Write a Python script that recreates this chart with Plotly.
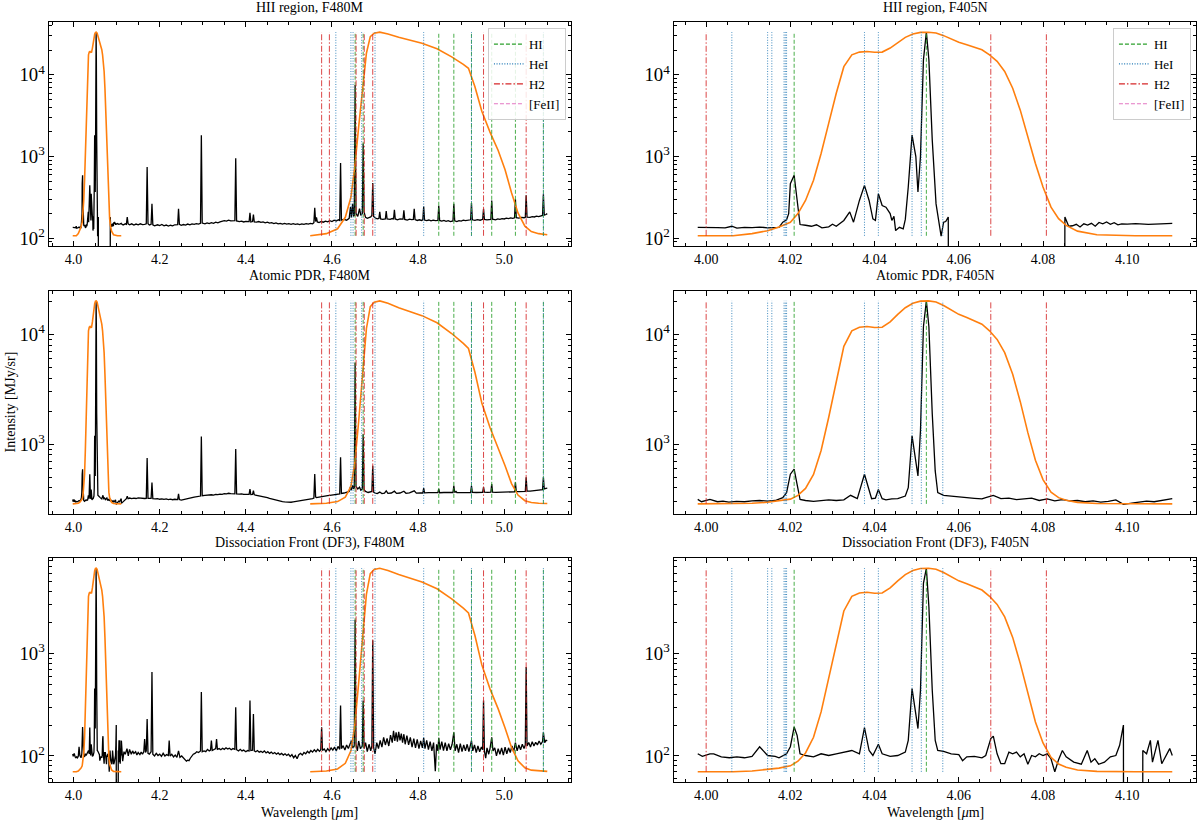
import math
import plotly.graph_objects as go
from plotly.subplots import make_subplots

# ---------------- data ----------------
regions = ['HII region', 'Atomic PDR', 'Dissociation Front (DF3)']
region_peak = [33400, 20200, 6800]
region_floor = [107, 285, 70]

# filter throughput curves (fraction of peak)
f405n_wave = [3.9980, 4.0064, 4.0109, 4.0146, 4.0173, 4.0200, 4.0218, 4.0236, 4.0255, 4.0273,
              4.0291, 4.0309, 4.0327, 4.0346, 4.0364, 4.0382, 4.0400, 4.0418, 4.0437, 4.0455,
              4.0473, 4.0491, 4.0509, 4.0528, 4.0546, 4.0564, 4.0582, 4.0600, 4.0619, 4.0637,
              4.0655, 4.0673, 4.0691, 4.0709, 4.0728, 4.0746, 4.0764, 4.0782, 4.0800, 4.0819,
              4.0837, 4.0855, 4.0882, 4.0928, 4.1019, 4.1107]
f405n_trans = [0.0, 0.0, 0.0002, 0.0005, 0.0009, 0.0015, 0.0028, 0.0055, 0.0122, 0.0296,
               0.0734, 0.176, 0.376, 0.527, 0.569, 0.578, 0.566, 0.569, 0.638, 0.750,
               0.864, 0.949, 0.994, 1.0, 0.976, 0.907, 0.822, 0.750, 0.702, 0.656,
               0.608, 0.527, 0.437, 0.328, 0.203, 0.108, 0.0495, 0.0215, 0.0095, 0.004,
               0.002, 0.0011, 0.00045, 0.0001, 0.0, 0.0]

f480m_wave = [4.5495, 4.587, 4.613, 4.631, 4.644, 4.653, 4.662, 4.671, 4.680, 4.689,
              4.698, 4.711, 4.730, 4.755, 4.780, 4.809, 4.844, 4.878, 4.905, 4.917,
              4.932, 4.948, 4.967, 4.986, 5.002, 5.017, 5.032, 5.048, 5.063, 5.080, 5.100]
f480m_trans = [0.0, 0.0002, 0.0007, 0.0022, 0.0063, 0.0192, 0.0663, 0.2124, 0.551, 0.883,
               0.970, 1.0, 0.949, 0.865, 0.799, 0.730, 0.626, 0.497, 0.401, 0.359,
               0.2124, 0.1046, 0.0567, 0.0324, 0.0175, 0.0076, 0.0029, 0.0010, 0.0004, 0.0002, 0.0001]

# spectra around F405N (3.998-4.111 um), (wavelength, intensity); 0.01 = non-positive pixel
hii_nb = [(3.998, 136), (4.0009, 137), (4.0027, 135), (4.0045, 134), (4.0061, 140), (4.0073, 133),
          (4.0091, 136), (4.0109, 135), (4.0127, 137), (4.0146, 134), (4.0164, 137), (4.0173, 136),
          (4.0182, 157), (4.0191, 168), (4.0196, 200), (4.0200, 466), (4.0209, 590), (4.0216, 290),
          (4.0223, 147), (4.0236, 144), (4.0250, 140), (4.0262, 146), (4.0275, 134), (4.0291, 138),
          (4.0300, 148), (4.0309, 140), (4.0318, 152), (4.0327, 165), (4.0341, 210), (4.0350, 157),
          (4.0364, 290), (4.0376, 444), (4.0387, 290), (4.0396, 173), (4.0402, 165), (4.0409, 350),
          (4.0418, 251), (4.0427, 240), (4.0437, 200), (4.0441, 165), (4.0446, 185), (4.0450, 124),
          (4.0459, 136), (4.0468, 130), (4.0473, 170), (4.0480, 424), (4.0489, 1830), (4.0498, 1000),
          (4.0503, 368), (4.0509, 1000), (4.0516, 15300), (4.0523, 33400), (4.0529, 15300),
          (4.0537, 1590), (4.0546, 263), (4.0558, 106), (4.0564, 157), (4.0569, 160), (4.0575, 182),
          (4.0577, 0.01), (4.0850, 0.01), (4.0852, 182), (4.0861, 140), (4.0870, 142), (4.0879, 148),
          (4.0888, 137), (4.0897, 150), (4.0906, 145), (4.0915, 152), (4.0924, 140), (4.0933, 156),
          (4.0942, 150), (4.0951, 158), (4.0960, 148), (4.0969, 155), (4.0978, 146), (4.0987, 150),
          (4.1000, 149), (4.1020, 151), (4.1050, 148), (4.1080, 150), (4.1107, 152)]

pdr_nb = [(3.998, 313), (3.9989, 298), (4.0009, 313), (4.0027, 298), (4.0040, 302), (4.0054, 296),
          (4.0072, 300), (4.0091, 298), (4.0109, 303), (4.0127, 306), (4.0146, 302), (4.0164, 306),
          (4.0182, 325), (4.0191, 361), (4.0200, 531), (4.0209, 590), (4.0216, 430), (4.0223, 313),
          (4.0236, 306), (4.0255, 301), (4.0273, 305), (4.0291, 310), (4.0309, 306), (4.0327, 310),
          (4.0343, 341), (4.0359, 318), (4.0376, 531), (4.0387, 373), (4.0393, 318), (4.0402, 322),
          (4.0409, 386), (4.0418, 318), (4.0427, 310), (4.0441, 316), (4.0455, 318), (4.0473, 336),
          (4.0480, 400), (4.0489, 1190), (4.0496, 755), (4.0503, 513), (4.0509, 1325),
          (4.0516, 11750), (4.0523, 20200), (4.0529, 11750), (4.0537, 1885), (4.0544, 569),
          (4.0550, 361), (4.0564, 341), (4.0582, 336), (4.0600, 333), (4.0619, 325), (4.0637, 320),
          (4.0655, 316), (4.0664, 325), (4.0682, 341), (4.0700, 318), (4.0719, 322), (4.0737, 312),
          (4.0755, 318), (4.0773, 322), (4.0791, 306), (4.0810, 316), (4.0828, 304), (4.0846, 312),
          (4.0864, 303), (4.0882, 306), (4.0900, 298), (4.0919, 304), (4.0937, 296), (4.0955, 300),
          (4.0973, 310), (4.0991, 282), (4.1019, 293), (4.1046, 302), (4.1064, 298), (4.1082, 305),
          (4.1107, 318)]

df3_nb = [(3.998, 105), (3.9991, 99), (4.0009, 105), (4.0018, 105), (4.0036, 98), (4.0055, 96),
          (4.0073, 98), (4.0091, 96), (4.0109, 99), (4.0127, 123), (4.0146, 101), (4.0164, 99),
          (4.0173, 96), (4.0191, 105), (4.0200, 123), (4.0209, 192), (4.0216, 159), (4.0223, 105),
          (4.0236, 101), (4.0255, 98), (4.0273, 105), (4.0291, 101), (4.0309, 105), (4.0327, 109),
          (4.0346, 113), (4.0364, 105), (4.0376, 189), (4.0387, 113), (4.0396, 101), (4.0409, 130),
          (4.0418, 105), (4.0437, 99), (4.0455, 101), (4.0473, 109), (4.0480, 142), (4.0489, 455),
          (4.0496, 301), (4.0503, 185), (4.0509, 438), (4.0516, 4830), (4.0523, 6800),
          (4.0529, 2860), (4.0537, 438), (4.0544, 142), (4.0550, 113), (4.0564, 111), (4.0582, 105),
          (4.0600, 103), (4.0609, 90), (4.0619, 98), (4.0637, 99), (4.0655, 96), (4.0664, 101),
          (4.0676, 148), (4.0682, 156), (4.0691, 105), (4.0700, 84), (4.0709, 84), (4.0719, 109),
          (4.0728, 105), (4.0737, 109), (4.0746, 98), (4.0755, 105), (4.0764, 83), (4.0773, 101),
          (4.0782, 98), (4.0791, 105), (4.0800, 101), (4.0810, 105), (4.0819, 94), (4.0828, 70),
          (4.0837, 92), (4.0846, 113), (4.0855, 98), (4.0873, 87), (4.0891, 83), (4.0905, 113),
          (4.0914, 87), (4.0923, 94), (4.0932, 83), (4.0946, 87), (4.0960, 98), (4.0973, 101),
          (4.0982, 127), (4.0991, 200), (4.0992, 0.01), (4.1036, 0.01), (4.1037, 113),
          (4.1046, 105), (4.1055, 142), (4.1060, 87), (4.1069, 123), (4.1073, 142), (4.1082, 84),
          (4.1091, 99), (4.1101, 118), (4.1107, 101)]

# spectra between the two filters and across F480M (4.111-5.100 um)
hii_mb = [(4.111, 150), (4.115, 145), (4.120, 150), (4.1226, 148), (4.1246, 181), (4.1266, 150),
          (4.130, 146), (4.135, 150), (4.140, 145), (4.145, 149), (4.150, 146), (4.155, 150),
          (4.160, 147), (4.165, 148), (4.1688, 150), (4.1708, 747), (4.1728, 150), (4.176, 145),
          (4.1800, 148), (4.1820, 264), (4.1840, 146), (4.188, 142), (4.195, 146), (4.200, 143),
          (4.205, 147), (4.210, 142), (4.215, 145), (4.220, 141), (4.225, 144), (4.230, 142),
          (4.235, 146), (4.2417, 147), (4.2437, 229), (4.2457, 148), (4.250, 144), (4.255, 147),
          (4.260, 145), (4.265, 149), (4.270, 146), (4.275, 150), (4.280, 148), (4.285, 151),
          (4.290, 149), (4.2947, 152), (4.2967, 1830), (4.2987, 153), (4.305, 150), (4.310, 154),
          (4.315, 151), (4.320, 155), (4.325, 152), (4.330, 157), (4.335, 154), (4.340, 158),
          (4.345, 160), (4.350, 164), (4.355, 162), (4.360, 166), (4.365, 163), (4.370, 165),
          (4.3745, 164), (4.3765, 950), (4.3785, 163), (4.385, 160), (4.390, 162), (4.395, 158),
          (4.400, 161), (4.4076, 160), (4.4096, 205), (4.4116, 158), (4.4156, 160), (4.4176, 195),
          (4.4196, 158), (4.425, 157), (4.430, 160), (4.435, 156), (4.440, 158), (4.445, 154),
          (4.450, 157), (4.455, 153), (4.460, 155), (4.465, 151), (4.470, 154), (4.475, 150),
          (4.480, 152), (4.485, 149), (4.490, 152), (4.495, 149), (4.500, 151), (4.505, 148),
          (4.510, 151), (4.515, 148), (4.520, 150), (4.525, 147), (4.530, 150), (4.535, 148),
          (4.540, 151), (4.545, 149), (4.550, 152), (4.555, 150), (4.558, 155), (4.560, 236),
          (4.562, 160), (4.564, 180), (4.566, 158), (4.570, 155), (4.575, 160), (4.580, 157),
          (4.585, 162), (4.590, 159), (4.595, 164), (4.600, 160), (4.605, 166), (4.610, 162),
          (4.615, 168), (4.618, 165), (4.620, 835), (4.622, 166), (4.628, 170), (4.634, 166),
          (4.640, 175), (4.643, 240), (4.645, 180), (4.648, 264), (4.650, 185), (4.6518, 190),
          (4.6538, 7540), (4.6558, 200), (4.660, 185), (4.664, 230), (4.667, 190), (4.6705, 200),
          (4.6725, 1450), (4.6745, 210), (4.678, 180), (4.682, 175), (4.686, 178), (4.690, 182),
          (4.6927, 190), (4.6947, 474), (4.6967, 185), (4.700, 178), (4.705, 173), (4.709, 175),
          (4.711, 210), (4.713, 172), (4.718, 170), (4.722, 174), (4.724, 172), (4.726, 215),
          (4.728, 172), (4.735, 170), (4.740, 174), (4.743, 172), (4.745, 223), (4.747, 172),
          (4.752, 168), (4.758, 172), (4.765, 171), (4.767, 220), (4.769, 170), (4.775, 167),
          (4.780, 171), (4.785, 169), (4.789, 170), (4.791, 229), (4.793, 169), (4.798, 165),
          (4.803, 168), (4.808, 165), (4.811, 168), (4.813, 245), (4.815, 167), (4.820, 164),
          (4.825, 167), (4.830, 163), (4.835, 166), (4.840, 164), (4.846, 165), (4.848, 250),
          (4.850, 165), (4.855, 162), (4.860, 165), (4.865, 161), (4.870, 164), (4.875, 160),
          (4.881, 163), (4.883, 264), (4.885, 163), (4.890, 160), (4.895, 164), (4.900, 162),
          (4.905, 166), (4.910, 164), (4.915, 167), (4.922, 168), (4.924, 270), (4.926, 168),
          (4.932, 165), (4.938, 169), (4.944, 166), (4.950, 170), (4.952, 229), (4.954, 170),
          (4.960, 168), (4.965, 171), (4.969, 170), (4.971, 290), (4.973, 171), (4.980, 168),
          (4.985, 172), (4.990, 170), (4.995, 174), (5.000, 172), (5.005, 176), (5.010, 174),
          (5.015, 177), (5.020, 175), (5.024, 178), (5.026, 300), (5.028, 178), (5.034, 176),
          (5.040, 180), (5.046, 178), (5.049, 180), (5.051, 335), (5.053, 181), (5.060, 180),
          (5.065, 184), (5.070, 182), (5.075, 186), (5.080, 184), (5.085, 188), (5.089, 190),
          (5.091, 344), (5.093, 192), (5.097, 195), (5.100, 200)]

pdr_mb = [(4.111, 288), (4.115, 300), (4.118, 310), (4.1226, 318), (4.1246, 335), (4.1266, 318),
          (4.130, 322), (4.135, 318), (4.140, 322), (4.145, 319), (4.150, 323), (4.155, 320),
          (4.160, 322), (4.165, 319), (4.1688, 320), (4.1708, 747), (4.1728, 320), (4.176, 318),
          (4.1800, 320), (4.1820, 445), (4.1840, 318), (4.190, 316), (4.195, 318), (4.200, 314),
          (4.205, 317), (4.210, 313), (4.215, 316), (4.220, 312), (4.225, 315), (4.230, 311),
          (4.235, 314), (4.2417, 312), (4.2437, 351), (4.2457, 312), (4.250, 309), (4.255, 312),
          (4.260, 314), (4.265, 318), (4.270, 321), (4.275, 325), (4.280, 328), (4.285, 332),
          (4.290, 334), (4.2947, 336), (4.2967, 1170), (4.2987, 338), (4.305, 340), (4.310, 343),
          (4.315, 341), (4.320, 345), (4.325, 343), (4.330, 348), (4.335, 346), (4.340, 350),
          (4.345, 348), (4.350, 353), (4.355, 351), (4.360, 356), (4.365, 353), (4.370, 355),
          (4.3745, 352), (4.3765, 902), (4.3785, 352), (4.385, 350), (4.390, 352), (4.395, 348),
          (4.400, 350), (4.4076, 348), (4.4096, 389), (4.4116, 346), (4.4156, 347), (4.4176, 377),
          (4.4196, 345), (4.425, 342), (4.430, 340), (4.435, 336), (4.440, 333), (4.445, 328),
          (4.450, 325), (4.455, 320), (4.460, 316), (4.465, 311), (4.470, 307), (4.475, 304),
          (4.480, 301), (4.485, 299), (4.490, 297), (4.495, 295), (4.500, 294), (4.505, 295),
          (4.510, 297), (4.515, 299), (4.520, 301), (4.525, 303), (4.530, 306), (4.535, 308),
          (4.540, 311), (4.545, 313), (4.550, 316), (4.555, 318), (4.558, 322), (4.560, 533),
          (4.562, 330), (4.564, 325), (4.570, 328), (4.575, 332), (4.580, 334), (4.585, 337),
          (4.590, 339), (4.595, 341), (4.600, 344), (4.605, 346), (4.610, 349), (4.615, 350),
          (4.618, 352), (4.620, 757), (4.622, 355), (4.628, 358), (4.634, 362), (4.640, 370),
          (4.643, 409), (4.645, 380), (4.648, 420), (4.650, 390), (4.6518, 400), (4.6538, 5520),
          (4.6558, 410), (4.660, 390), (4.664, 405), (4.667, 380), (4.6705, 390), (4.6725, 1230),
          (4.6745, 385), (4.678, 370), (4.684, 362), (4.690, 365), (4.6927, 370), (4.6947, 635),
          (4.6967, 365), (4.700, 358), (4.705, 354), (4.711, 365), (4.716, 354), (4.722, 357),
          (4.726, 375), (4.730, 356), (4.738, 358), (4.745, 372), (4.750, 355), (4.758, 358),
          (4.767, 372), (4.772, 356), (4.780, 359), (4.791, 375), (4.796, 357), (4.805, 359),
          (4.811, 358), (4.813, 397), (4.815, 359), (4.825, 361), (4.835, 359), (4.846, 361),
          (4.848, 390), (4.850, 360), (4.860, 362), (4.870, 360), (4.881, 362), (4.883, 417),
          (4.885, 362), (4.888, 370), (4.890, 362), (4.900, 361), (4.910, 363), (4.922, 362),
          (4.924, 417), (4.926, 363), (4.935, 362), (4.944, 364), (4.950, 363), (4.952, 405),
          (4.954, 364), (4.962, 363), (4.969, 364), (4.971, 433), (4.973, 364), (4.980, 363),
          (4.990, 365), (5.000, 364), (5.010, 366), (5.020, 366), (5.024, 367), (5.026, 449),
          (5.028, 368), (5.035, 368), (5.045, 370), (5.049, 371), (5.051, 498), (5.053, 372),
          (5.060, 373), (5.070, 376), (5.080, 380), (5.089, 385), (5.091, 498), (5.093, 390),
          (5.097, 395), (5.100, 397)]

df3_mb = [(4.111, 141), (4.114, 89), (4.117, 110), (4.120, 104), (4.124, 118), (4.127, 100),
          (4.130, 116), (4.134, 104), (4.137, 112), (4.140, 106), (4.144, 110), (4.147, 102),
          (4.150, 108), (4.154, 103), (4.157, 109), (4.160, 104), (4.163, 110), (4.1650, 146),
          (4.1670, 108), (4.1688, 112), (4.1708, 229), (4.1728, 106), (4.176, 104), (4.1800, 110),
          (4.1820, 660), (4.1840, 104), (4.188, 100), (4.192, 106), (4.196, 101), (4.200, 104),
          (4.204, 99), (4.208, 106), (4.212, 100), (4.216, 103), (4.2200, 101), (4.2220, 141),
          (4.2240, 100), (4.228, 104), (4.232, 98), (4.236, 102), (4.240, 97), (4.2437, 112),
          (4.247, 97), (4.251, 100), (4.255, 95), (4.259, 92), (4.262, 89), (4.265, 91),
          (4.268, 90), (4.271, 95), (4.274, 99), (4.278, 104), (4.282, 106), (4.286, 110),
          (4.290, 108), (4.2947, 112), (4.2967, 420), (4.2987, 110), (4.303, 112), (4.307, 110),
          (4.311, 116), (4.315, 112), (4.3180, 114), (4.3200, 141), (4.3220, 113), (4.326, 116),
          (4.3300, 118), (4.3320, 146), (4.3340, 116), (4.338, 118), (4.342, 115), (4.346, 119),
          (4.350, 116), (4.354, 120), (4.358, 117), (4.362, 119), (4.366, 115), (4.370, 118),
          (4.3745, 116), (4.3765, 298), (4.3785, 115), (4.383, 112), (4.387, 116), (4.391, 112),
          (4.395, 114), (4.400, 110), (4.404, 113), (4.4076, 112), (4.4096, 347), (4.4116, 113),
          (4.4156, 114), (4.4176, 257), (4.4196, 112), (4.423, 110), (4.427, 113), (4.431, 109),
          (4.435, 111), (4.439, 108), (4.443, 112), (4.447, 107), (4.451, 110), (4.455, 106),
          (4.459, 109), (4.463, 105), (4.467, 108), (4.471, 104), (4.475, 107), (4.479, 103),
          (4.483, 106), (4.487, 102), (4.491, 105), (4.495, 101), (4.499, 104), (4.503, 99),
          (4.507, 103), (4.511, 96), (4.515, 101), (4.519, 94), (4.523, 103), (4.527, 106),
          (4.531, 102), (4.535, 108), (4.539, 105), (4.543, 111), (4.547, 107), (4.551, 113),
          (4.555, 109), (4.559, 115), (4.563, 110), (4.567, 116), (4.571, 111), (4.5740, 115),
          (4.5760, 190), (4.5780, 113), (4.582, 117), (4.586, 110), (4.590, 118), (4.594, 112),
          (4.598, 120), (4.602, 114), (4.606, 122), (4.610, 112), (4.614, 124), (4.618, 116),
          (4.620, 310), (4.622, 118), (4.626, 126), (4.630, 114), (4.634, 128), (4.638, 118),
          (4.642, 130), (4.645, 141), (4.648, 120), (4.6518, 125), (4.6538, 2130), (4.6558, 130),
          (4.659, 112), (4.662, 140), (4.666, 118), (4.6705, 125), (4.6725, 347), (4.6745, 118),
          (4.678, 135), (4.682, 110), (4.686, 130), (4.690, 112), (4.6927, 125), (4.6947, 1350),
          (4.6967, 121), (4.700, 105), (4.704, 135), (4.708, 118), (4.712, 142), (4.716, 122),
          (4.720, 152), (4.724, 128), (4.728, 148), (4.732, 125), (4.736, 160), (4.740, 135),
          (4.743, 176), (4.746, 140), (4.749, 170), (4.752, 138), (4.755, 172), (4.758, 142),
          (4.761, 165), (4.764, 135), (4.767, 163), (4.770, 130), (4.774, 158), (4.778, 128),
          (4.782, 152), (4.786, 122), (4.790, 148), (4.794, 120), (4.798, 145), (4.802, 118),
          (4.806, 140), (4.810, 120), (4.813, 150), (4.816, 118), (4.820, 142), (4.824, 115),
          (4.828, 138), (4.832, 112), (4.836, 135), (4.840, 71), (4.843, 130), (4.846, 112),
          (4.848, 150), (4.851, 115), (4.855, 138), (4.859, 113), (4.863, 135), (4.867, 112),
          (4.871, 132), (4.875, 115), (4.879, 130), (4.883, 170), (4.886, 112), (4.890, 130),
          (4.894, 108), (4.898, 132), (4.902, 110), (4.906, 128), (4.910, 112), (4.914, 130),
          (4.918, 110), (4.922, 128), (4.924, 141), (4.927, 112), (4.931, 128), (4.935, 108),
          (4.939, 125), (4.943, 110), (4.947, 122), (4.950, 115), (4.952, 347), (4.954, 112),
          (4.957, 95), (4.960, 120), (4.964, 104), (4.967, 118), (4.971, 152), (4.974, 112),
          (4.978, 120), (4.982, 100), (4.986, 118), (4.990, 104), (4.994, 120), (4.998, 102),
          (5.002, 122), (5.006, 105), (5.010, 120), (5.014, 108), (5.018, 125), (5.022, 110),
          (5.026, 135), (5.030, 112), (5.034, 128), (5.038, 115), (5.042, 130), (5.046, 118),
          (5.049, 128), (5.051, 740), (5.053, 125), (5.057, 135), (5.061, 122), (5.065, 138),
          (5.069, 125), (5.073, 136), (5.077, 128), (5.081, 140), (5.085, 130), (5.089, 138),
          (5.091, 170), (5.094, 135), (5.097, 142), (5.100, 141)]

# line positions (um)
f480m_hi = [4.6538, 4.6725, 4.848, 4.883, 4.924, 4.971, 5.026, 5.091]
f480m_hei = [4.609, 4.644, 4.649, 4.669, 4.700, 4.813, 4.924, 5.091]
f480m_h2 = [4.576, 4.594, 4.656, 4.675, 4.6947, 4.952, 5.051]
f480m_feii = []
f405n_hi = [4.0209, 4.0523]
f405n_hei = [4.0061, 4.0146, 4.0156, 4.0185, 4.0188, 4.0191, 4.0376, 4.0409, 4.0489, 4.0511, 4.0562]
f405n_h2 = [4.0000, 4.0676, 4.0808]
f405n_feii = []

# ---------------- figure ----------------
FONT = 'Liberation Serif, Times New Roman, serif'
species = [('HI', '#2ca02c', '4px,2px'), ('HeI', '#1f77b4', '1px,1.6px'),
           ('H2', '#d62728', '6px,2px,1.5px,2px'), ('[FeII]', '#e377c2', '4px,2px')]

x_dom = [[0.0, 0.4551], [0.5449, 1.0]]
y_dom = [[0.7053, 1.0], [0.3526, 0.6464], [0.0, 0.2947]]

fig = make_subplots(rows=3, cols=2)


def vline_trace(positions, lo, hi, color, dash):
    xs, ys = [], []
    for p in positions:
        xs += [p, p, None]
        ys += [lo, hi, None]
    return go.Scatter(x=xs, y=ys, mode='lines', showlegend=False, hoverinfo='skip',
                      opacity=0.85, line=dict(color=color, width=1, dash=dash))


nb_spectra = [hii_nb, pdr_nb, df3_nb]
mb_spectra = [hii_mb, pdr_mb, df3_mb]
lines_left = [f480m_hi, f480m_hei, f480m_h2, f480m_feii]
lines_right = [f405n_hi, f405n_hei, f405n_h2, f405n_feii]

for r in range(3):
    lo, hi = region_floor[r], region_peak[r]
    nb_w = [p[0] for p in nb_spectra[r]]
    nb_f = [p[1] for p in nb_spectra[r]]
    mb_w = [p[0] for p in mb_spectra[r]]
    mb_f = [p[1] for p in mb_spectra[r]]
    o405 = [lo + t * (hi - lo) for t in f405n_trans]
    o480 = [lo + t * (hi - lo) for t in f480m_trans]

    # left column: F480M
    fig.add_trace(go.Scatter(x=nb_w + mb_w, y=nb_f + mb_f, mode='lines', showlegend=False,
                             line=dict(color='black', width=1.3)), row=r + 1, col=1)
    fig.add_trace(go.Scatter(x=f405n_wave + [None] + f480m_wave, y=o405 + [None] + o480,
                             mode='lines', showlegend=False,
                             line=dict(color='#ff7f0e', width=1.6)), row=r + 1, col=1)
    for (name, color, dash), pos in zip(species, lines_left):
        if pos:
            fig.add_trace(vline_trace(pos, lo, hi, color, dash), row=r + 1, col=1)

    # right column: F405N
    fig.add_trace(go.Scatter(x=nb_w, y=nb_f, mode='lines', showlegend=False,
                             line=dict(color='black', width=1.3)), row=r + 1, col=2)
    fig.add_trace(go.Scatter(x=f405n_wave, y=o405, mode='lines', showlegend=False,
                             line=dict(color='#ff7f0e', width=1.6)), row=r + 1, col=2)
    for (name, color, dash), pos in zip(species, lines_right):
        if pos:
            fig.add_trace(vline_trace(pos, lo, hi, color, dash), row=r + 1, col=2)

# legend entries for the two top panels
for col, leg in [(1, 'legend'), (2, 'legend2')]:
    for name, color, dash in species:
        fig.add_trace(go.Scatter(x=[None], y=[None], mode='lines', name=name, legend=leg,
                                 line=dict(color=color, width=1.2, dash=dash)), row=1, col=col)

# axes
left_lo = min(f405n_wave[0], nb_spectra[0][0][0])
left_hi = max(f480m_wave[-1], hii_mb[-1][0])
right_lo, right_hi = f405n_wave[0], f405n_wave[-1]
annotations = []
for r in range(3):
    lg_lo = math.log10(region_floor[r])
    lg_hi = math.log10(region_peak[r])
    pad = 0.05 * (lg_hi - lg_lo)
    for c in range(2):
        if c == 0:
            pad_x = 0.05 * (left_hi - left_lo)
            xr = [left_lo - pad_x, left_hi + pad_x]
            xt = dict(tick0=4.0, dtick=0.2, tickformat='.1f', minor=0.05)
        else:
            pad_x = 0.05 * (right_hi - right_lo)
            xr = [right_lo - pad_x, right_hi + pad_x]
            xt = dict(tick0=4.0, dtick=0.02, tickformat='.2f', minor=0.005)
        fig.update_xaxes(range=xr, domain=x_dom[c], automargin=False, showline=True,
                         linecolor='black', linewidth=1.4, mirror='allticks', ticks='inside',
                         ticklen=5, tickwidth=1, tickcolor='black', showgrid=False,
                         zeroline=False, tickfont=dict(family=FONT, size=14),
                         tick0=xt['tick0'], dtick=xt['dtick'], tickformat=xt['tickformat'],
                         minor=dict(ticks='inside', ticklen=3, tickcolor='black',
                                    dtick=xt['minor'], showgrid=False),
                         row=r + 1, col=c + 1)
        fig.update_yaxes(type='log', range=[lg_lo - pad, lg_hi + pad], domain=y_dom[r],
                         automargin=False, showline=True, linecolor='black', linewidth=1.4,
                         mirror='allticks', ticks='inside', ticklen=5, tickwidth=1,
                         tickcolor='black', dtick=1, exponentformat='power', showgrid=False,
                         zeroline=False, tickfont=dict(family=FONT, size=15),
                         minor=dict(ticks='inside', ticklen=3, tickcolor='black', dtick='D1',
                                    showgrid=False),
                         row=r + 1, col=c + 1)
        filt = 'F480M' if c == 0 else 'F405N'
        annotations.append(dict(text=f'{regions[r]}, {filt}', xref='paper', yref='paper',
                                x=sum(x_dom[c]) / 2, y=y_dom[r][1] + 15 / 760,
                                xanchor='center', yanchor='middle', showarrow=False,
                                font=dict(family=FONT, size=14, color='black')))

for c in range(2):
    annotations.append(dict(text='Wavelength [<i>μ</i>m]', xref='paper', yref='paper',
                            x=sum(x_dom[c]) / 2, y=-30 / 760, xanchor='center',
                            yanchor='middle', showarrow=False,
                            font=dict(family=FONT, size=14, color='black')))
annotations.append(dict(text='Intensity [MJy/sr]', xref='paper', yref='paper',
                        x=-39 / 1147, y=sum(y_dom[1]) / 2, xanchor='center',
                        yanchor='middle', textangle=-90, showarrow=False,
                        font=dict(family=FONT, size=14, color='black')))

legend_style = dict(xanchor='right', yanchor='top', bgcolor='rgba(255,255,255,0.85)',
                    bordercolor='#cccccc', borderwidth=1,
                    font=dict(family=FONT, size=13, color='black'), tracegroupgap=0)
fig.update_layout(
    width=1200, height=823,
    margin=dict(l=49, r=4, t=22, b=41),
    plot_bgcolor='white', paper_bgcolor='white',
    font=dict(family=FONT, size=14, color='black'),
    showlegend=True,
    legend=dict(x=0.4507, y=0.992, **legend_style),
    legend2=dict(x=0.9956, y=0.992, **legend_style),
    annotations=annotations,
)

# the page's default body margin would push the 1200x823 figure off the window
fig.write_html('out.html', config={'displayModeBar': False},
               post_script="document.body.style.margin='0';")
